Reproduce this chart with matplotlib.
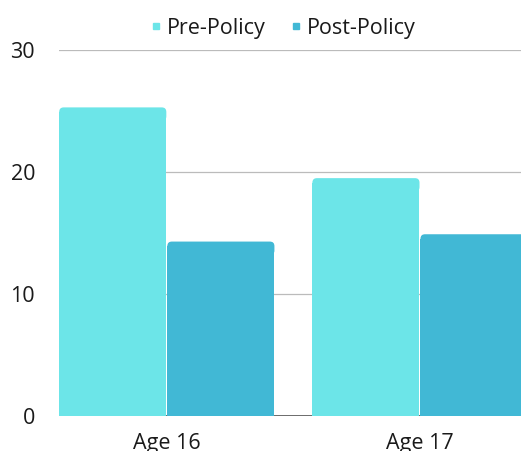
import matplotlib
matplotlib.use("Agg")
import matplotlib.pyplot as plt
from matplotlib.lines import Line2D
from matplotlib.patches import FancyBboxPatch
import numpy as np

categories = ["Age 16", "Age 17"]
series_names = ["Pre-Policy", "Post-Policy"]
pre_policy = [25.3, 19.5]
post_policy = [14.3, 14.9]
colors = ["#6CE5E8", "#41B8D5"]
yticks = [0, 10, 20, 30]

plt.rcParams['font.family'] = ['Open Sans', 'DejaVu Sans']

fig = plt.figure(figsize=(5.21, 4.51), dpi=100)
ax = fig.add_axes([0.1127, 0.0776, 1.0 - 0.1127, 0.889 - 0.0776])

x = np.arange(len(categories))
w = 0.427
ax.set_ylim(0, 30)
ax.set_xlim(-w, 1.399)

def rounded_bars(xs, vals, color):
    fig.canvas.draw()
    inv = ax.transData.inverted()
    p0 = inv.transform((0, 0)); p1 = inv.transform((4.5, 4.5))
    rx, ry = p1[0] - p0[0], p1[1] - p0[1]
    gap = (inv.transform((1.0, 0))[0] - p0[0]) / 2
    bars = ax.bar(xs, vals, width=w - 2 * gap, color=color, edgecolor="none", zorder=2)
    for b in bars:
        bx, bw, bh = b.get_x(), b.get_width(), b.get_height()
        b.set_height(bh - ry)
        top = FancyBboxPatch((bx, bh - 3 * ry), bw, 3 * ry,
                             boxstyle=f"round,pad=0,rounding_size={rx}",
                             mutation_aspect=ry / rx, facecolor=color, edgecolor="none", zorder=2)
        ax.add_patch(top)
    return bars

rounded_bars(x - w / 2, pre_policy, colors[0])
rounded_bars(x + w / 2, post_policy, colors[1])

ax.set_yticks(yticks)
ax.set_yticklabels([str(t) for t in yticks], fontsize=15.5, color="#1a1a1a")
ax.set_xticks(x)
ax.set_xticklabels(categories, fontsize=15.5, color="#1a1a1a")
ax.tick_params(axis='y', length=0, pad=17)
ax.tick_params(axis='x', length=0, pad=12)
ax.grid(axis='y', color="#BBBBBB", linewidth=0.9, zorder=0)
ax.set_axisbelow(True)
for s in ax.spines.values():
    s.set_visible(False)
ax.axhline(0, color="#555555", linewidth=1.2, zorder=1.5)

handles = [Line2D([], [], marker='s', linestyle='none', markersize=5, color=c) for c in colors]
fig.legend(handles, series_names, loc='upper center', bbox_to_anchor=(0.54, 1.003), ncol=2,
           frameon=False, fontsize=15.5, handletextpad=0.1, columnspacing=1.0, handlelength=0.8,
           labelcolor="#1a1a1a")

fig.savefig("out.png", dpi=100)
